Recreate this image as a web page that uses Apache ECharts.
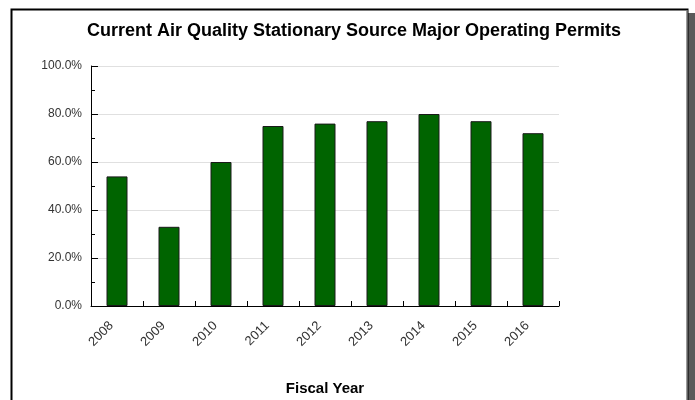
<!DOCTYPE html>
<html>
<head>
<meta charset="utf-8">
<script src="https://cdn.jsdelivr.net/npm/echarts@6/dist/echarts.min.js"></script>
<style>
  html, body { margin: 0; padding: 0; background: #fff; }
  #chart { width: 695px; height: 400px; }
</style>
</head>
<body>
<div id="chart"></div>
<script>
// 数据
const years = ['2008', '2009', '2010', '2011', '2012', '2013', '2014', '2015', '2016']
const permitPct = [54, 33, 60, 75, 76, 77, 80, 77, 72]
const titleText = 'Current Air Quality Stationary Source Major Operating Permits'
const xAxisName = 'Fiscal Year'

const chart = echarts.init(document.getElementById('chart'))

const options = {
  animation: false,
  backgroundColor: '#fff',
  textStyle: { fontFamily: 'Liberation Sans, Arial, sans-serif' },
  // 外框和阴影
  graphic: [
    { type: 'rect', shape: { x: 688, y: 13, width: 7, height: 400 }, style: { fill: '#5a5a5a' }, z: -1 },
    { type: 'rect', shape: { x: 11.5, y: 9.5, width: 676, height: 400 }, style: { fill: '#fff', stroke: '#000', lineWidth: 2 }, z: -1 },
    { type: 'line', shape: { x1: 687, y1: 10, x2: 687, y2: 400 }, style: { stroke: '#bbb', lineWidth: 1 }, z: -1 },
  ],
  title: {
    text: titleText,
    left: 349,
    textAlign: 'center',
    top: 17,
    textStyle: { fontSize: 18, fontWeight: 'bold', color: '#000' },
  },
  grid: { left: 91, right: 136, top: 66, bottom: 94, outerBoundsMode: 'none', containLabel: false },
  xAxis: {
    type: 'category',
    data: years,
    name: xAxisName,
    nameLocation: 'middle',
    nameGap: 75,
    nameTextStyle: { fontSize: 15, fontWeight: 'bold', color: '#000' },
    axisLine: { lineStyle: { color: '#000', width: 1 } },
    axisTick: { show: true, inside: true, length: 5, lineStyle: { color: '#000' } },
    axisLabel: { rotate: 45, fontSize: 13, color: '#333', margin: 12, padding: [0, 8, 0, 0] },
  },
  yAxis: {
    type: 'value',
    min: 0,
    max: 100,
    interval: 20,
    axisLine: { show: true, lineStyle: { color: '#000', width: 1 } },
    axisTick: { show: true, inside: true, length: 7, lineStyle: { color: '#000' } },
    minorTick: { show: true, splitNumber: 2, length: 4, lineStyle: { color: '#000' } },
    splitLine: { show: true, lineStyle: { color: '#e0e0e0', width: 1 } },
    axisLabel: {
      fontSize: 12,
      color: '#333',
      margin: 9,
      formatter: (v) => v.toFixed(1) + '%',
    },
  },
  series: [
    {
      type: 'bar',
      data: permitPct,
      barWidth: 21,
      itemStyle: { color: '#006400', borderColor: '#1a1a1a', borderWidth: 1 },
    },
  ],
}

chart.setOption(options)
</script>
</body>
</html>
